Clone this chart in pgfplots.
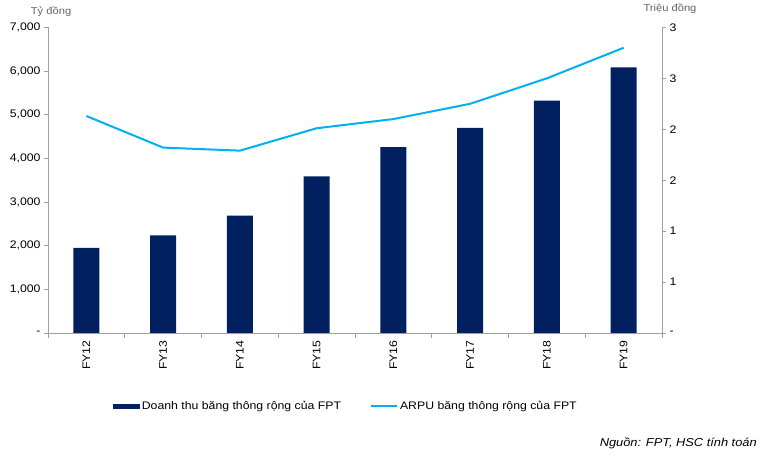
\documentclass[border=0pt]{standalone}
\usepackage{fontspec}
\setmainfont{Liberation Sans}[FakeStretch=1.12]
\usepackage{pgfplots}
\pgfplotsset{compat=1.18}

\definecolor{navy}{RGB}{0,32,96}
\definecolor{arpu}{RGB}{0,176,240}
\definecolor{axisgray}{RGB}{160,160,160}
\definecolor{titlegray}{RGB}{100,100,100}

% Doanh thu (ty dong) va ARPU (trieu dong)
\pgfplotstableread{
x  rev   arpu
0  1947  2.13
1  2236  1.82
2  2687  1.79
3  3587  2.01
4  4260  2.10
5  4696  2.25
6  5321  2.50
7  6084  2.80
}\datatable

\begin{document}
\begin{tikzpicture}[x=1bp,y=1bp]
\useasboundingbox (0,0) rectangle (763,459);
\begin{axis}[
  at={(48bp,126bp)}, anchor=south west,
  scale only axis, width=614bp, height=305.6bp,
  xmin=-0.5, xmax=7.5, ymin=0, ymax=7000,
  axis x line*=bottom, axis y line*=left,
  axis line style={draw=axisgray, line width=0.8pt},
  tick align=outside,
  major tick length=4bp, minor tick length=5bp,
  every tick/.style={draw=axisgray, line width=0.8pt},
  xtick={0,...,7},
  xticklabels={FY12,FY13,FY14,FY15,FY16,FY17,FY18,FY19},
  major x tick style={draw=none},
  minor xtick={-0.5,0.5,...,7.5},
  xticklabel style={rotate=90, anchor=east},
  ytick={0,1000,...,7000},
  yticklabels={-,{1,000},{2,000},{3,000},{4,000},{5,000},{6,000},{7,000}},
  tick label style={font=\fontsize{11}{13}\selectfont, text=black},
  clip=false,
  legend style={at={(0.485,-0.24)}, anchor=center, legend columns=2,
    draw=none, fill=none, font=\fontsize{11}{13}\selectfont,
    /tikz/every even column/.append style={column sep=27bp},
    inner sep=0pt, legend cell align=left},
]
\addplot[ybar, bar width=26bp, fill=navy, draw=none,
  legend image code/.code={\fill[navy] (0bp,-2.5bp) rectangle (27bp,2.5bp);}]
  table[x=x, y=rev] {\datatable};
\addlegendentry{Doanh thu băng thông rộng của FPT}
\addlegendimage{legend image code/.code={\draw[arpu, line width=2bp] (0bp,0bp) -- (26bp,0bp);}}
\addlegendentry{ARPU băng thông rộng của FPT}

\node[font=\fontsize{10}{12}\selectfont, text=titlegray] at (rel axis cs:0.005,1.05) {Tỷ đồng};
\node[font=\fontsize{10}{12}\selectfont, text=titlegray] at (rel axis cs:1.013,1.06) {Triệu đồng};
\node[font=\itshape\fontsize{11.5}{13}\selectfont, anchor=east] at (rel axis cs:1.16,-0.36) {Nguồn: FPT, HSC tính toán};
\end{axis}

\begin{axis}[
  at={(48bp,126bp)}, anchor=south west,
  scale only axis, width=614bp, height=305.6bp,
  xmin=-0.5, xmax=7.5, ymin=0, ymax=3,
  axis x line=none, axis y line*=right,
  axis line style={draw=axisgray, line width=0.8pt},
  tick align=outside, major tick length=4bp,
  every tick/.style={draw=axisgray, line width=0.8pt},
  ytick={0,0.5,...,3},
  yticklabels={-,1,1,2,2,3,3},
  tick label style={font=\fontsize{11}{13}\selectfont, text=black},
]
\addplot[arpu, line width=2bp, mark=none] table[x=x, y=arpu] {\datatable};
\end{axis}
\end{tikzpicture}
\end{document}
